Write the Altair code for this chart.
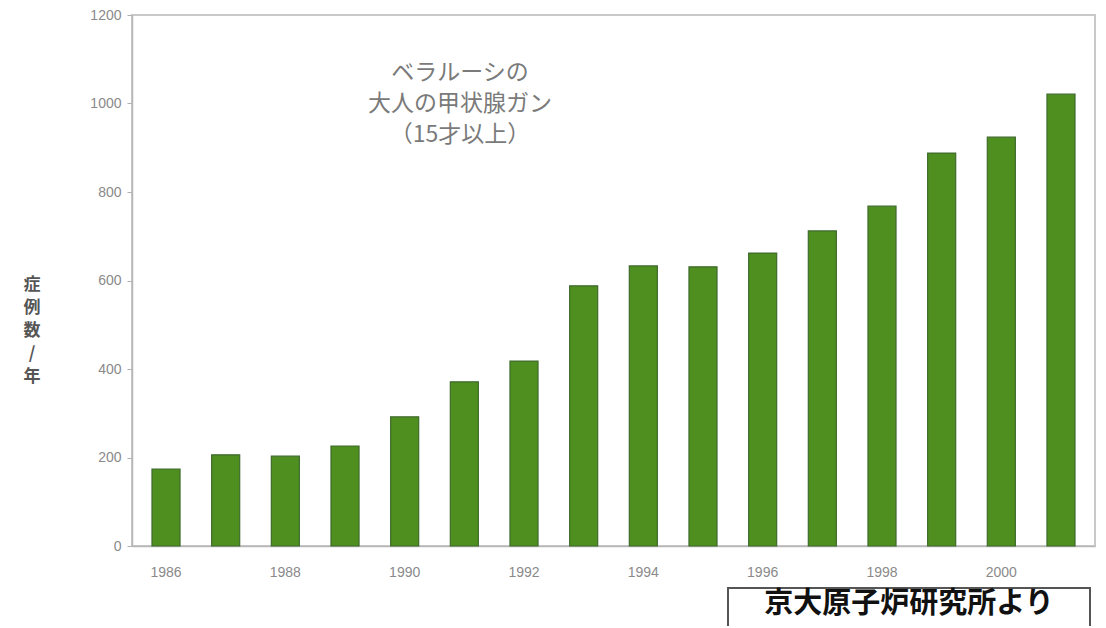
import altair as alt
import pandas as pd

years = [str(y) for y in range(1986, 2002)]
cases = [174, 206, 203, 226, 292, 371, 418, 588, 633, 631, 662, 712, 768, 888, 924, 1021]
y_ticks = [0, 200, 400, 600, 800, 1000, 1200]
note_lines = ["ベラルーシの", "大人の甲状腺ガン", "（15才以上）"]
y_title_text = "症\n例\n数\n/\n年"
source_text = "京大原子炉研究所より"

df = pd.DataFrame({"year": years, "cases": cases})

W, H = 963, 531

bars = alt.Chart(df).mark_bar(
    color="#4f8f1f", stroke="#3e6a2c", strokeWidth=1.2
).encode(
    x=alt.X("year:N", title=None, sort=years,
            scale=alt.Scale(paddingInner=0.53, paddingOuter=0.335),
            axis=alt.Axis(labelAngle=0, ticks=False, labelPadding=19,
                          labelExpr="toNumber(datum.value) % 2 == 0 ? datum.value : ''",
                          labelColor="#8a8a8a", labelFontSize=14, labelFont="Liberation Sans",
                          domainColor="#b8b8b8", domainWidth=1.5)),
    y=alt.Y("cases:Q", title=None,
            scale=alt.Scale(domain=[0, 1200], nice=False),
            axis=alt.Axis(values=y_ticks, grid=False, tickSize=5, tickColor="#b0b0b0",
                          format="d",
                          labelPadding=6, labelColor="#8a8a8a", labelFontSize=14,
                          labelFont="Liberation Sans",
                          domainColor="#b8b8b8", domainWidth=1.5)),
)

note = alt.Chart(pd.DataFrame({"t": ["\n".join(note_lines)]})).mark_text(
    font="Noto Sans CJK JP", fontSize=23, color="#7a7a7a", lineBreak="\n",
    lineHeight=31, align="center", baseline="top"
).encode(text="t:N", x=alt.value(328), y=alt.value(47))

ytitle = alt.Chart(pd.DataFrame({"t": [y_title_text]})).mark_text(
    font="Noto Sans CJK JP", fontSize=17, fontWeight="bold", color="#555555",
    lineBreak="\n", lineHeight=23, align="center", baseline="middle"
).encode(text="t:N", x=alt.value(-100), y=alt.value(270))

box = alt.Chart(pd.DataFrame({"a": [0]})).mark_rect(
    fill="white", stroke="#555555", strokeWidth=2
).encode(x=alt.value(596), x2=alt.value(958), y=alt.value(573), y2=alt.value(640))

src = alt.Chart(pd.DataFrame({"t": [source_text]})).mark_text(
    font="Noto Sans CJK JP", fontSize=29, fontWeight="bold", color="#111111",
    align="center", baseline="middle"
).encode(text="t:N", x=alt.value(777), y=alt.value(589))

chart = alt.layer(bars, note, ytitle, box, src).properties(
    width=W, height=H,
    padding={"left": 124, "top": 7, "right": 3, "bottom": 80},
    autosize=alt.AutoSizeParams(type="none"),
    background="white",
).configure_view(stroke="#c8c8c8", strokeWidth=2)

chart.save("out.html", embed_options={"renderer": "svg", "actions": False})
